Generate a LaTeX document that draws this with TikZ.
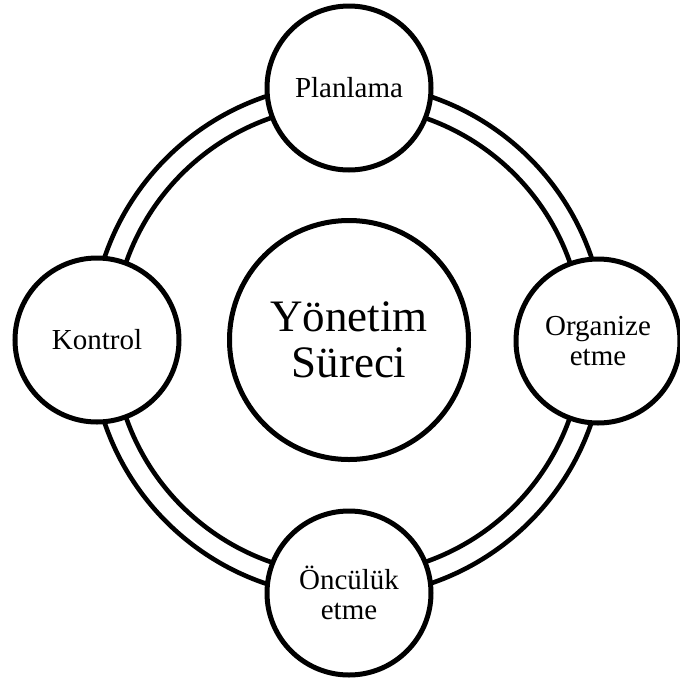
\documentclass[tikz,border=0pt]{standalone}
\usepackage{fontspec}
\setmainfont{Liberation Serif}
\tikzset{
  stage/.style={circle, draw=black, line width=5pt, fill=white,
    minimum size=164pt, inner sep=0pt, align=center,
    font=\fontsize{29}{29.5}\selectfont},
  hub/.style={circle, draw=black, line width=5pt, fill=white,
    minimum size=239pt, inner sep=0pt, align=center,
    font=\fontsize{45}{46}\selectfont},
  ring/.style={draw=black, line width=4.6pt}
}
\begin{document}
\begin{tikzpicture}[x=1pt,y=-1pt]
  \useasboundingbox (0,0) rectangle (680,686);
  \coordinate (c) at (348,340);
  % double ring joining the four stages
  \draw[ring] (c) circle[radius=257pt];
  \draw[ring] (c) circle[radius=235pt];
  % central process
  \node[hub] (hub) at (349,340) {Yönetim\\Süreci};
  % the four stages of the cycle
  \node[stage] (plan) at (349,88) {Planlama};
  \node[stage] (org) at (598,341) {Organize\\etme};
  \node[stage] (lead) at (349,593) {Öncülük\\etme};
  \node[stage] (ctrl) at (97,340) {Kontrol};
\end{tikzpicture}
\end{document}
